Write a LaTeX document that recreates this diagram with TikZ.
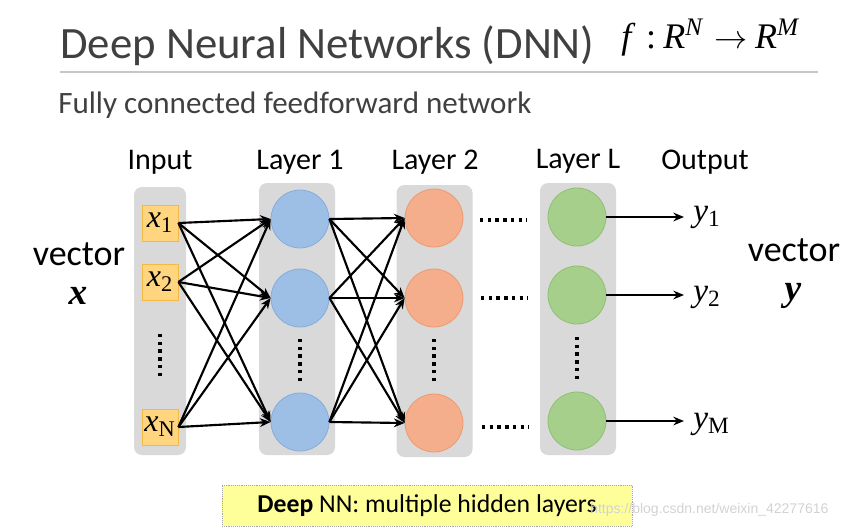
\documentclass[tikz,border=0pt]{standalone}
\usepackage{fontspec}
\setmainfont{Carlito}
\newfontfamily\serif{Liberation Serif}
\newfontfamily\wmfont{Liberation Sans}
\usetikzlibrary{arrows.meta,positioning}

\definecolor{colgray}{HTML}{D9D9D9}
\definecolor{infill}{HTML}{FFD580}
\definecolor{inborder}{HTML}{F4B942}
\definecolor{bluefill}{HTML}{9DBFE6}
\definecolor{blueline}{HTML}{86ACDC}
\definecolor{orangefill}{HTML}{F4AE8C}
\definecolor{orangeline}{HTML}{EE9A6E}
\definecolor{greenfill}{HTML}{A6CF8C}
\definecolor{greenline}{HTML}{8FC072}
\definecolor{notefill}{HTML}{FFFF99}
\definecolor{titlegray}{HTML}{404040}

\newcommand{\netvar}[2]{{\serif\itshape #1}\textsubscript{\serif #2}}

\tikzset{
  colbox/.style={fill=colgray, rounded corners=6pt, minimum width=57pt, minimum height=204pt, inner sep=0pt},
  inbox/.style={draw=inborder, fill=infill, minimum size=27pt, inner sep=0pt, line width=0.6pt, font=\fontsize{24}{24}\selectfont},
  neuron/.style={circle, minimum size=43.5pt, inner sep=0pt, line width=0.6pt},
  conn/.style={-{Stealth[length=8pt,width=6.5pt]}, line width=1.6pt},
  vdots/.style={line width=2.6pt, dash pattern=on 2.6pt off 3.2pt},
  hdots/.style={line width=2.6pt, dash pattern=on 2.6pt off 3.2pt},
  layerlabel/.style={font=\fontsize{22.5}{22.5}\selectfont, text=black},
  outlabel/.style={anchor=west, inner sep=0pt, font=\fontsize{25}{25}\selectfont},
}

\begin{document}
\begin{tikzpicture}[x=0.75pt,y=-0.75pt]
\useasboundingbox (0,0) rectangle (866,529);

% title and subtitle
\node[anchor=base west, inner sep=0pt, text=titlegray, font=\fontsize{33.6}{34}\selectfont] (title) at (60,58) {Deep Neural Networks (DNN)};
\node[anchor=base west, inner sep=0pt, font=\serif\fontsize{27}{27}\selectfont] (func) at (621,48)
  {\textit{f}\hspace{0.3em}:\hspace{0.2em}\textit{R}\textsuperscript{\textit{N}}\hspace{0.3em}$\rightarrow$\hspace{0.2em}\textit{R}\textsuperscript{\textit{M}}};
\draw[gray!45, line width=0.8pt] (60,72) -- (818,72);
\node[anchor=base west, inner sep=0pt, text=titlegray, font=\fontsize{23.3}{23.3}\selectfont] (subtitle) at (58,113) {Fully connected feedforward network};

% columns
\node[colbox, minimum width=39pt, minimum height=201pt] (incol) at (160,321) {};
\node[colbox] (l1col) at (297,319) {};
\node[colbox] (l2col) at (434.5,321) {};
\node[colbox] (lLcol) at (578,319) {};

% layer labels
\node[layerlabel] (inlab) at (160,162) {Input};
\node[layerlabel] (l1lab) at (300,162) {Layer 1};
\node[layerlabel] (l2lab) at (435,162) {Layer 2};
\node[layerlabel] (lLlab) at (578,161) {Layer L};
\node[layerlabel] (outlab) at (705,162) {Output};

% inputs
\node[inbox] (x1) at (160,223) {\netvar{x}{1}};
\node[inbox] (x2) at (160,282) {\netvar{x}{2}};
\node[inbox] (xN) at (160,427) {\netvar{x}{N}};
\draw[vdots] (160,334) -- (160,380);

% layer 1
\node[neuron, fill=bluefill, draw=blueline] (a1) at (300,219) {};
\node[neuron, fill=bluefill, draw=blueline] (a2) at (300,298) {};
\node[neuron, fill=bluefill, draw=blueline] (a3) at (300,422) {};
\draw[vdots] (300,339) -- (300,385);

% layer 2
\node[neuron, fill=orangefill, draw=orangeline] (b1) at (434,218) {};
\node[neuron, fill=orangefill, draw=orangeline] (b2) at (434,298) {};
\node[neuron, fill=orangefill, draw=orangeline] (b3) at (434,423) {};
\draw[vdots] (434,339) -- (434,385);

% layer L
\node[neuron, fill=greenfill, draw=greenline] (c1) at (577,217) {};
\node[neuron, fill=greenfill, draw=greenline] (c2) at (577,295) {};
\node[neuron, fill=greenfill, draw=greenline] (c3) at (577,421) {};
\draw[vdots] (577,337) -- (577,382);

% dots between layer 2 and layer L
\draw[hdots] (480,220) -- (527,220);
\draw[hdots] (481,298) -- (528,298);
\draw[hdots] (482,427) -- (529,427);

% connections
\foreach \s in {x1,x2,xN}
  \foreach \t in {a1,a2,a3}
    \draw[conn] (\s.east) -- (\t.west);
\foreach \s in {a1,a2,a3}
  \foreach \t in {b1,b2,b3}
    \draw[conn] (\s.east) -- (\t.west);

% outputs
\coordinate (o1) at (684,217);
\coordinate (o2) at (684,295);
\coordinate (o3) at (684,421);
\draw[conn] (c1.east) -- (o1);
\draw[conn] (c2.east) -- (o2);
\draw[conn] (c3.east) -- (o3);
\node[outlabel] (y1) at (693,217) {\netvar{y}{1}};
\node[outlabel] (y2) at (693,297) {\netvar{y}{2}};
\node[outlabel] (yM) at (693,424) {\netvar{y}{M}};

% vectors
\node[font=\fontsize{27}{27}\selectfont] (vecx) at (79,254) {vector};
\node[font=\serif\bfseries\itshape\fontsize{28}{28}\selectfont] (vx) at (78,296) {x};
\node[font=\fontsize{27}{27}\selectfont] (vecy) at (794,250) {vector};
\node[font=\serif\bfseries\itshape\fontsize{28}{28}\selectfont] (vy) at (793,296) {y};

% note
\node[fill=notefill, draw=gray!70, densely dotted, minimum width=307.5pt, minimum height=30.75pt, inner sep=0pt, font=\fontsize{19.3}{19.3}\selectfont] (note) at (427,505.5) {\textbf{Deep} NN: multiple hidden layers};
\node[anchor=west, inner sep=0pt, text=gray!35, font=\wmfont\fontsize{10.5}{10.5}\selectfont] (wm) at (590,510) {https://blog.csdn.net/weixin\_42277616};
\end{tikzpicture}
\end{document}
